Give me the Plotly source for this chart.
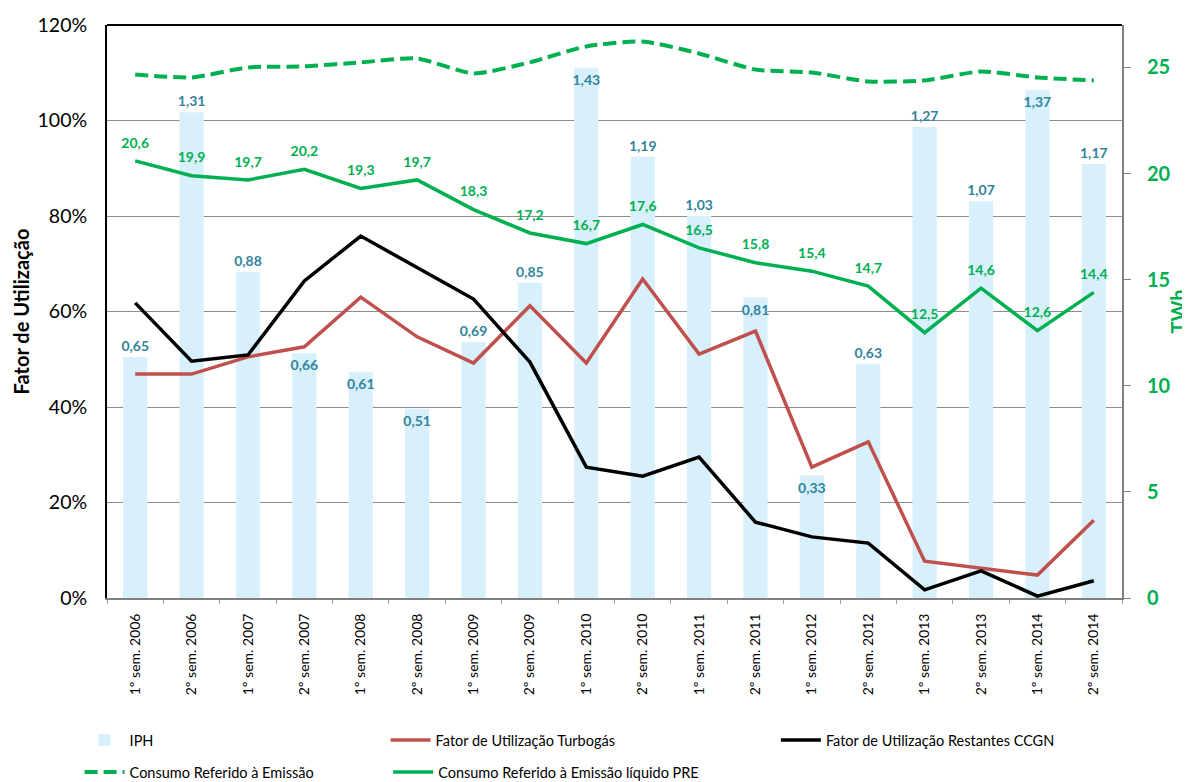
import plotly.graph_objects as go

categories = ["1º sem. 2006", "2º sem. 2006", "1º sem. 2007", "2º sem. 2007", "1º sem. 2008", "2º sem. 2008",
              "1º sem. 2009", "2º sem. 2009", "1º sem. 2010", "2º sem. 2010", "1º sem. 2011", "2º sem. 2011",
              "1º sem. 2012", "2º sem. 2012", "1º sem. 2013", "2º sem. 2013", "1º sem. 2014", "2º sem. 2014"]
iph = [0.65, 1.31, 0.88, 0.66, 0.61, 0.51, 0.69, 0.85, 1.43, 1.19, 1.03, 0.81, 0.33, 0.63, 1.27, 1.07, 1.37, 1.17]
iph_label_pos = ["outside", "outside", "outside", "inside", "inside", "inside", "outside", "outside", "inside",
                 "outside", "outside", "inside", "inside", "outside", "outside", "outside", "inside", "outside"]
turbogas = [46.9, 46.9, 50.5, 52.6, 63.0, 54.7, 49.2, 61.2, 49.2, 66.8, 51.1, 55.9, 27.4, 32.7, 7.7, 6.3, 4.8, 16.3]
ccgn = [61.8, 49.6, 50.9, 66.4, 75.8, 69.1, 62.6, 49.4, 27.4, 25.5, 29.5, 15.9, 12.8, 11.5, 1.7, 5.7, 0.4, 3.6]
consumo = [24.67, 24.53, 25.0, 25.05, 25.24, 25.42, 24.72, 25.24, 25.99, 26.22, 25.66, 24.9, 24.76, 24.34,
           24.39, 24.81, 24.53, 24.39]
consumo_pre = [20.6, 19.9, 19.7, 20.2, 19.3, 19.7, 18.3, 17.2, 16.7, 17.6, 16.5, 15.8, 15.4, 14.7, 12.5, 14.6, 12.6, 14.4]
pct_ticks = [0, 20, 40, 60, 80, 100, 120]
twh_ticks = [0, 5, 10, 15, 20, 25]

FONT = "Lato"
GREEN = "#00b050"
RED = "#c0504d"
BAR = "#d8f0fb"
LBL = "#31849b"

def fmt(v, d):
    return f"{v:.{d}f}".replace(".", ",")

fig = go.Figure()
# bars on the base (hidden) axis so that they sit underneath every line and label
fig.add_trace(go.Bar(
    x=categories, y=iph, name="IPH", yaxis="y", legend="legend",
    marker=dict(color=BAR, line=dict(width=0)), width=0.43,
    text=[fmt(v, 2) for v in iph], textposition=iph_label_pos, insidetextanchor="end",
    constraintext="none", cliponaxis=False, textangle=0,
    textfont=dict(family=FONT, size=14, color=LBL, weight="bold"),
))
fig.add_trace(go.Scatter(
    x=categories, y=turbogas, name="Fator de Utilização Turbogás", mode="lines", yaxis="y2", legend="legend",
    line=dict(color=RED, width=3.5),
))
fig.add_trace(go.Scatter(
    x=categories, y=ccgn, name="Fator de Utilização Restantes CCGN", mode="lines", yaxis="y2", legend="legend2",
    line=dict(color="black", width=3.5),
))
fig.add_trace(go.Scatter(
    x=categories, y=consumo, name="Consumo Referido à Emissão", mode="lines", yaxis="y3", legend="legend3",
    line=dict(color=GREEN, width=4, dash="13px,6px", shape="spline", smoothing=0.6),
))
fig.add_trace(go.Scatter(
    x=categories, y=consumo_pre, name="Consumo Referido à Emissão líquido PRE", mode="lines+markers+text",
    yaxis="y3", legend="legend4",
    line=dict(color=GREEN, width=3.5),
    marker=dict(size=14, color="rgba(0,0,0,0)"),
    text=[fmt(v, 1) for v in consumo_pre], textposition="top center",
    textfont=dict(family=FONT, size=14, color=GREEN, weight="bold"), cliponaxis=False,
))

leg_common = dict(orientation="h", font=dict(family=FONT, size=14.5, color="black"),
                  entrywidth=251, entrywidthmode="pixels", bgcolor="rgba(0,0,0,0)",
                  xanchor="left", yanchor="middle", itemwidth=40, tracegroupgap=0)
leg_wide = dict(leg_common, entrywidth=330)

# the page body adds an 8 px offset, so the figure is 8 px smaller and margins are adjusted
fig.update_layout(
    width=1182, height=774,
    margin=dict(l=99, r=68, t=17, b=184, autoexpand=False),
    paper_bgcolor="white", plot_bgcolor="white",
    font=dict(family=FONT, color="black"),
    xaxis=dict(
        type="category", tickangle=-90, tickfont=dict(family=FONT, size=14, color="black"),
        showline=True, linecolor="#808080", linewidth=2,
        ticks="outside", ticklen=4, tickcolor="#a0a0a0", tickson="boundaries",
        ticklabelstandoff=8, automargin=False,
        showgrid=False, range=[-0.5, 17.5],
    ),
    yaxis=dict(range=[0, 1.545], visible=False, showgrid=False, zeroline=False, automargin=False),
    yaxis2=dict(
        overlaying="y", side="left", range=[0, 120], tickvals=pct_ticks,
        ticktext=[f"{v}%" for v in pct_ticks],
        tickfont=dict(family=FONT, size=19.5, color="black"),
        showgrid=True, gridcolor="#8c8c8c", gridwidth=1,
        showline=True, linecolor="black", linewidth=2, zeroline=False,
        ticks="", ticklabelstandoff=14, automargin=False,
        title=dict(text="Fator de Utilização", font=dict(family=FONT, size=20, color="black", weight="bold"),
                   standoff=3),
    ),
    yaxis3=dict(
        overlaying="y", side="right", range=[0, 27], tickvals=twh_ticks,
        tickfont=dict(family=FONT, size=20, color=GREEN, weight="bold"),
        showgrid=False, zeroline=False, showline=True, linecolor="#808080", linewidth=2,
        ticks="outside", ticklen=7, tickcolor="#808080", ticklabelstandoff=12, automargin=False,
        title=dict(text="TWh", font=dict(family=FONT, size=20, color=GREEN, weight="bold"), standoff=3),
    ),
    legend=dict(x=-0.027, y=-0.248, **leg_common),
    legend2=dict(x=0.659, y=-0.248, **leg_wide),
    legend3=dict(x=-0.027, y=-0.304, **leg_common),
    legend4=dict(x=0.277, y=-0.304, **leg_wide),
    shapes=[dict(type="line", xref="paper", yref="paper", x0=0, x1=1, y0=1, y1=1,
                 line=dict(color="black", width=2))],
)

fig.write_html("out.html")
